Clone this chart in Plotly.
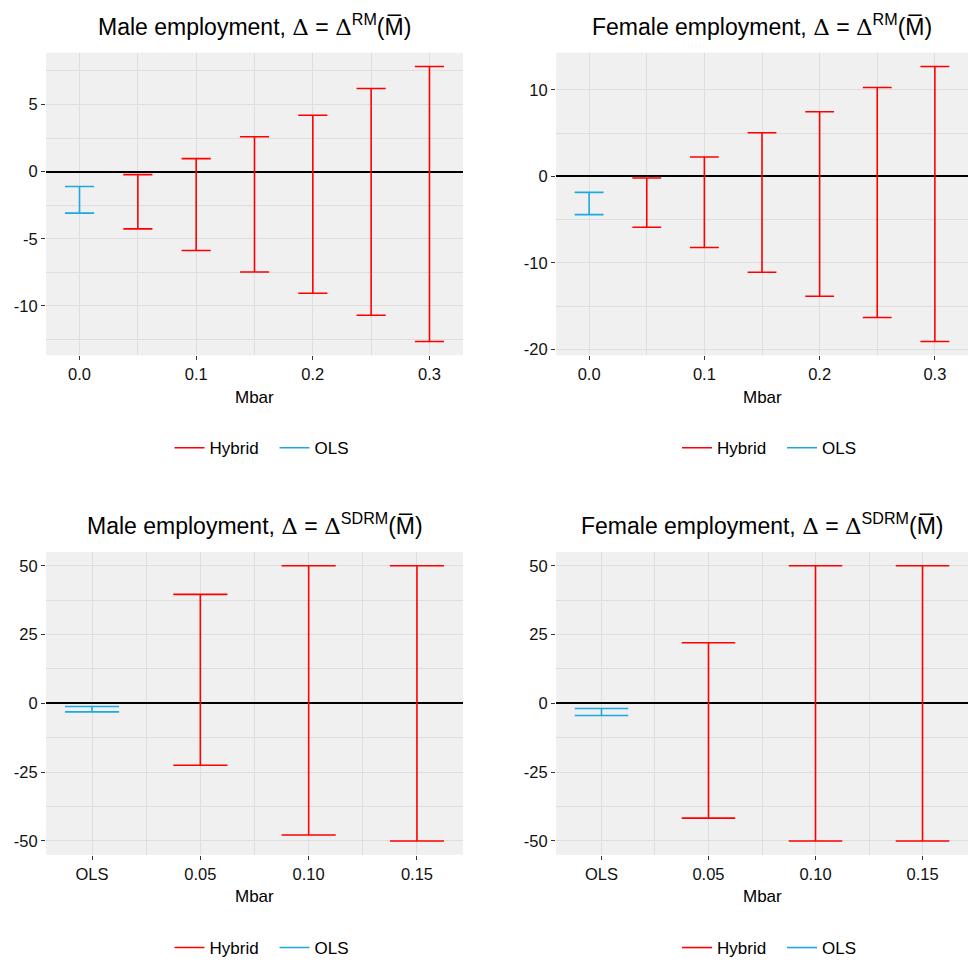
import plotly.graph_objects as go

# ---- data -------------------------------------------------------------
mbar_rm = [0.05, 0.10, 0.15, 0.20, 0.25, 0.30]

male_rm_lb = [-4.26, -5.87, -7.48, -9.06, -10.70, -12.65]
male_rm_ub = [-0.22, 0.97, 2.60, 4.20, 6.19, 7.83]
female_rm_lb = [-5.89, -8.23, -11.09, -13.86, -16.32, -19.09]
female_rm_ub = [-0.19, 2.24, 5.05, 7.47, 10.27, 12.70]

male_ols = [-3.09, -1.11]     # [lb, ub]
female_ols = [-4.42, -1.85]

sdrm_labels = ["OLS", "0.05", "0.10", "0.15"]
mbar_sdrm_pos = [2, 3, 4]
male_sdrm_lb = [-22.5, -47.8, -50.0]
male_sdrm_ub = [39.6, 50.0, 50.0]
female_sdrm_lb = [-41.7, -50.0, -50.0]
female_sdrm_ub = [22.0, 50.0, 50.0]

RED = "#FF0000"
BLUE = "#1CA9E0"
FONT = "Liberation Sans, Arial, sans-serif"
BG = "#F0F0F0"
GRID = "#DEDEDE"


def errorbar_path(xs, lbs, ubs, width):
    """Vertical segment + two caps for each interval, as one path."""
    px, py = [], []
    for x, lo, hi in zip(xs, lbs, ubs):
        px += [x, x, None, x - width / 2, x + width / 2, None,
               x - width / 2, x + width / 2, None]
        py += [lo, hi, None, hi, hi, None, lo, lo, None]
    return px, py


W, H = 968, 966
fig = go.Figure()

# panel geometry in pixels: (x0, x1, ytop, ybottom)
panels = {
    1: (46, 463, 53, 356.7),
    2: (556, 968, 53, 356.7),
    3: (46, 463, 554.3, 858.3),
    4: (556, 968, 554.3, 858.3),
}

titles = {
    1: "Male employment, ",
    2: "Female employment, ",
    3: "Male employment, ",
    4: "Female employment, ",
}
supers = {1: "RM", 2: "RM", 3: "SDRM", 4: "SDRM"}

series = {
    1: (mbar_rm, male_rm_lb, male_rm_ub, [0.0], male_ols, 0.025),
    2: (mbar_rm, female_rm_lb, female_rm_ub, [0.0], female_ols, 0.025),
    3: (mbar_sdrm_pos, male_sdrm_lb, male_sdrm_ub, [1], male_ols, 0.5),
    4: (mbar_sdrm_pos, female_sdrm_lb, female_sdrm_ub, [1], female_ols, 0.5),
}

legend_y = {1: 450, 2: 450, 3: 952, 4: 952}

for k, (x0, x1, yt, yb) in panels.items():
    xa = "x" if k == 1 else f"x{k}"
    ya = "y" if k == 1 else f"y{k}"
    lg = "legend" if k == 1 else f"legend{k}"
    xs, lbs, ubs, xo, ols, w = series[k]

    hx, hy = errorbar_path(xs, lbs, ubs, w)
    fig.add_trace(go.Scatter(x=hx, y=hy, mode="lines", name="Hybrid",
                             line=dict(color=RED, width=1.6),
                             xaxis=xa, yaxis=ya, legend=lg,
                             hoverinfo="skip"))
    ox, oy = errorbar_path(xo, [ols[0]], [ols[1]], w)
    fig.add_trace(go.Scatter(x=ox, y=oy, mode="lines", name="OLS",
                             line=dict(color=BLUE, width=1.6),
                             xaxis=xa, yaxis=ya, legend=lg,
                             hoverinfo="skip"))

    axkey_x = "xaxis" if k == 1 else f"xaxis{k}"
    axkey_y = "yaxis" if k == 1 else f"yaxis{k}"
    xdom = [x0 / W, x1 / W]
    ydom = [1 - yb / H, 1 - yt / H]

    common = dict(showgrid=True, gridcolor=GRID, gridwidth=1,
                  ticks="outside", ticklen=4, tickcolor="#333333",
                  tickwidth=1, showline=False,
                  tickfont=dict(family=FONT, size=16.5, color="#111111"))

    if k in (1, 2):
        allv = lbs + ubs + ols
        lo, hi = min(allv), max(allv)
        pad = 0.05 * (hi - lo)
        xr = [-0.0125, 0.3125]
        xp = 0.05 * (xr[1] - xr[0])
        fig.layout[axkey_x] = dict(common, domain=xdom, anchor=ya,
                                   range=[xr[0] - xp, xr[1] + xp],
                                   tickvals=[0.0, 0.1, 0.2, 0.3],
                                   ticktext=["0.0", "0.1", "0.2", "0.3"],
                                   zeroline=False,
                                   minor=dict(showgrid=True, gridcolor=GRID,
                                              gridwidth=0.7,
                                              tickvals=[0.05, 0.15, 0.25]))
        if k == 1:
            yt_vals = [-10, -5, 0, 5]
            ymin = [-12.5, -7.5, -2.5, 2.5, 7.5]
        else:
            yt_vals = [-20, -10, 0, 10]
            ymin = [-15, -5, 5]
        fig.layout[axkey_y] = dict(common, domain=ydom, anchor=xa,
                                   range=[lo - pad, hi + pad],
                                   tickvals=yt_vals,
                                   ticktext=[str(v) for v in yt_vals],
                                   zeroline=True, zerolinecolor="black",
                                   zerolinewidth=1.6,
                                   minor=dict(showgrid=True, gridcolor=GRID,
                                              gridwidth=0.7, tickvals=ymin))
    else:
        fig.layout[axkey_x] = dict(common, domain=xdom, anchor=ya,
                                   range=[0.575, 4.425],
                                   tickvals=[1, 2, 3, 4],
                                   ticktext=sdrm_labels,
                                   zeroline=False,
                                   minor=dict(showgrid=True, gridcolor=GRID,
                                              gridwidth=0.7,
                                              tickvals=[1.5, 2.5, 3.5]))
        fig.layout[axkey_y] = dict(common, domain=ydom, anchor=xa,
                                   range=[-55, 55],
                                   tickvals=[-50, -25, 0, 25, 50],
                                   ticktext=["-50", "-25", "0", "25", "50"],
                                   zeroline=True, zerolinecolor="black",
                                   zerolinewidth=1.6,
                                   minor=dict(showgrid=True, gridcolor=GRID,
                                              gridwidth=0.7,
                                              tickvals=[-37.5, -12.5, 12.5, 37.5]))

    # panel background
    fig.add_shape(type="rect", xref="paper", yref="paper",
                  x0=xdom[0], x1=xdom[1], y0=ydom[0], y1=ydom[1],
                  fillcolor=BG, line=dict(width=0), layer="below")

    cx = (x0 + x1) / 2 / W
    # title
    title = (titles[k]
             + "<span style='font-family:DejaVu Serif'>\u0394</span> = "
             + "<span style='font-family:DejaVu Serif'>\u0394</span>"
             + f"<sup>{supers[k]}</sup>(M\u0305)")
    fig.add_annotation(text=title, xref="paper", yref="paper",
                       x=cx, y=1 - (yt - 28) / H, xanchor="center",
                       yanchor="middle", showarrow=False,
                       font=dict(family=FONT, size=23, color="black"))
    # x axis title
    fig.add_annotation(text="Mbar", xref="paper", yref="paper",
                       x=cx, y=1 - (yb + 42) / H, xanchor="center",
                       yanchor="middle", showarrow=False,
                       font=dict(family=FONT, size=17, color="black"))

    fig.layout[lg] = dict(orientation="h", x=cx + 20 / W, xanchor="center",
                          y=1 - legend_y[k] / H, yanchor="middle",
                          bgcolor="rgba(0,0,0,0)",
                          font=dict(family=FONT, size=17, color="black"),
                          itemwidth=30, entrywidth=60, entrywidthmode="pixels")

fig.update_layout(width=W, height=H, margin=dict(l=0, r=0, t=0, b=0),
                  paper_bgcolor="white", plot_bgcolor="rgba(0,0,0,0)",
                  showlegend=True)

fig.write_html("out.html")
